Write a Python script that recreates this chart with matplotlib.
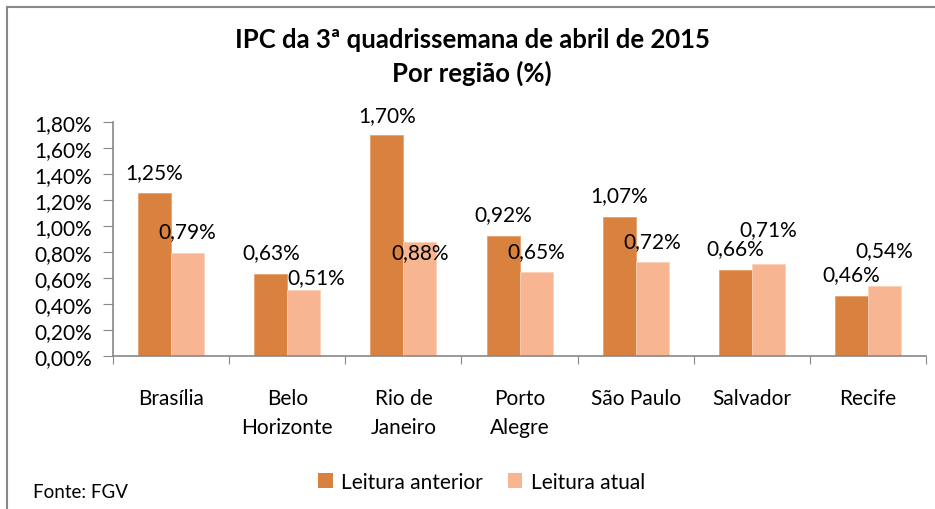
import matplotlib.pyplot as plt
import numpy as np
from matplotlib.lines import Line2D
from matplotlib.patches import Patch
from matplotlib.ticker import FuncFormatter

plt.switch_backend('Agg')
plt.rcParams['font.family'] = ['Lato', 'DejaVu Sans']

# Dados do gráfico
regioes = ['Brasília', 'Belo\nHorizonte', 'Rio de\nJaneiro', 'Porto\nAlegre',
           'São Paulo', 'Salvador', 'Recife']
leitura_anterior = [1.25, 0.63, 1.70, 0.92, 1.07, 0.66, 0.46]
leitura_atual = [0.79, 0.51, 0.88, 0.65, 0.72, 0.71, 0.54]
y_ticks = [0.0, 0.2, 0.4, 0.6, 0.8, 1.0, 1.2, 1.4, 1.6, 1.8]

# deslocamento dos rótulos (pixels), imitando o Excel
off_ant = [(0, 21), (0, 22), (0, 20), (0, 22), (0, 22), (0, 22), (0, 22)]
off_atu = [(0, 22), (13, 13), (0, -10), (0, 20), (0, 21), (0, 35), (0, 36)]

cor_ant = '#D9823F'
cor_atu = '#F8B591'

fig = plt.figure(figsize=(9.35, 5.10), dpi=100)
ax = fig.add_axes([0.1209, 0.2994, 0.8695, 0.46])

x = np.arange(len(regioes))
w = 0.284
ax.bar(x - w / 2, leitura_anterior, w, color=cor_ant, edgecolor='#E9A26E', linewidth=0.6)
ax.bar(x + w / 2, leitura_atual, w, color=cor_atu, edgecolor='#FBD0B8', linewidth=0.6)

def fmt(v):
    return f'{v:.2f}'.replace('.', ',') + '%'

px = 0.72  # pixels -> pontos a 100 dpi
for i in range(len(regioes)):
    ax.annotate(fmt(leitura_anterior[i]), (x[i] - w / 2, leitura_anterior[i]),
                xytext=(off_ant[i][0] * px, off_ant[i][1] * px), textcoords='offset points',
                ha='center', va='center', fontsize=15, color='black')
    ax.annotate(fmt(leitura_atual[i]), (x[i] + w / 2, leitura_atual[i]),
                xytext=(off_atu[i][0] * px, off_atu[i][1] * px), textcoords='offset points',
                ha='center', va='center', fontsize=15, color='black')

ax.set_xlim(-0.5, len(regioes) - 0.5)
ax.set_ylim(0, 1.8)
ax.set_yticks(y_ticks)
ax.yaxis.set_major_formatter(FuncFormatter(lambda v, p: fmt(v)))
ax.set_xticks(np.arange(len(regioes) + 1) - 0.5, minor=False)
ax.set_xticklabels([])
ax.set_xticks(x, minor=True)
ax.set_xticklabels(regioes, minor=True, fontsize=15, linespacing=1.55)
ax.tick_params(axis='x', which='minor', length=0, pad=23)
ax.tick_params(axis='x', which='major', length=6, color='#888888', direction='out')
ax.tick_params(axis='y', length=7, color='#888888', labelsize=15, pad=8)

for s in ['top', 'right']:
    ax.spines[s].set_visible(False)
for s in ['left', 'bottom']:
    ax.spines[s].set_color('#888888')
    ax.spines[s].set_linewidth(1.2)

fig.text(0.505, 0.922, 'IPC da 3ª quadrissemana de abril de 2015', ha='center', va='center',
         fontsize=18.5, fontweight='bold')
fig.text(0.505, 0.857, 'Por região (%)', ha='center', va='center',
         fontsize=18.5, fontweight='bold')

handles = [Patch(facecolor=cor_ant, label='Leitura anterior'),
           Patch(facecolor=cor_atu, label='Leitura atual')]
fig.legend(handles=handles, loc='center', bbox_to_anchor=(0.515, 0.053), ncol=2,
           frameon=False, fontsize=15, handlelength=0.7, handleheight=0.7,
           handletextpad=0.4, columnspacing=1.2)

fig.text(0.035, 0.035, 'Fonte: FGV', ha='left', va='center', fontsize=13.5)

# moldura do gráfico (cortada na direita/baixo)
fig.add_artist(Line2D([0.0075, 1.0], [0.984, 0.984], color='#888888', lw=1.5))
fig.add_artist(Line2D([0.0075, 0.0075], [0.0, 0.984], color='#888888', lw=1.5))

fig.savefig('out.png', dpi=100)
plt.close(fig)
